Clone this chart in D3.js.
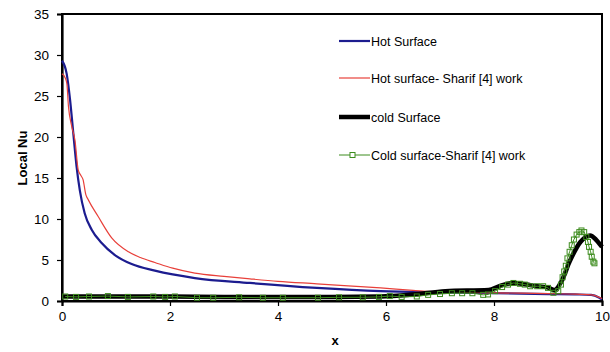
<!DOCTYPE html>
<html>
<head>
<meta charset="utf-8">
<script src="https://cdn.jsdelivr.net/npm/d3@7"></script>
<style>
    body { margin: 0; background: #fff; }
    svg { font-family: 'Liberation Sans', Arial, sans-serif; }
</style>
</head>
<body>
<div id="chart"></div>
<script>
'use strict';

// hot surface (present work)
const hotX = [0, 0.087, 0.15, 0.21, 0.27, 0.33, 0.42, 0.55, 0.73, 0.98, 1.29, 1.72, 2.46, 3.48, 4.72, 5.9, 7.0, 8.0, 9.0, 9.5, 9.8, 9.95, 10];
const hotNu = [29.3, 27.7, 24.5, 20.4, 16.4, 13.5, 10.7, 8.7, 7.1, 5.6, 4.5, 3.7, 2.8, 2.2, 1.6, 1.2, 1.05, 0.95, 0.85, 0.8, 0.75, 0.4, 0.2];

// hot surface - Sharif [4]
const hotSharifX = [0, 0.06, 0.09, 0.12, 0.18, 0.24, 0.3, 0.35, 0.39, 0.44, 0.49, 0.67, 0.92, 1.23, 1.45, 1.72, 2.05, 2.46, 3.0, 3.48, 4.0, 4.72, 5.3, 5.9, 6.5, 7.0, 8.0, 9.0, 9.5, 9.8, 10];
const hotSharifNu = [27.7, 27.2, 26.5, 23.7, 21.3, 19.6, 16.0, 15.3, 14.8, 13.0, 12.3, 10.3, 7.7, 6.0, 5.3, 4.7, 4.0, 3.4, 3.0, 2.7, 2.4, 2.1, 1.85, 1.6, 1.3, 1.1, 1.0, 0.9, 0.85, 0.75, 0.3];

// cold surface (present work)
const coldX = [0, 1, 2, 3, 4, 5, 5.9, 6.5, 7.1, 7.9, 8.1, 8.35, 8.6, 8.8, 9.0, 9.12, 9.25, 9.4, 9.6, 9.78, 9.9, 10];
const coldNu = [0.55, 0.55, 0.55, 0.5, 0.5, 0.5, 0.55, 0.8, 1.2, 1.35, 1.8, 2.2, 2.0, 1.8, 1.65, 1.35, 2.4, 4.8, 7.2, 8.0, 7.4, 6.6];

// cold surface - Sharif [4]
const coldSharifX = [0.06, 0.26, 0.5, 0.85, 1.22, 1.69, 1.91, 2.09, 2.5, 2.8, 3.28, 3.72, 4.09, 4.74, 5.13, 5.57, 5.87, 6.07, 6.29, 6.57, 6.78, 7.0, 7.22, 7.41, 7.6, 7.8, 7.89, 8.02, 8.15, 8.26, 8.36, 8.48, 8.57, 8.67, 8.8, 8.91, 9.0, 9.1, 9.19, 9.24, 9.27, 9.3, 9.33, 9.36, 9.4, 9.44, 9.48, 9.53, 9.58, 9.62, 9.67, 9.71, 9.74, 9.76, 9.79, 9.81, 9.84, 9.86];
const coldSharifNu = [0.55, 0.5, 0.55, 0.6, 0.5, 0.55, 0.5, 0.55, 0.4, 0.4, 0.45, 0.4, 0.4, 0.4, 0.45, 0.45, 0.5, 0.6, 0.5, 0.55, 0.75, 0.85, 0.95, 0.95, 0.95, 0.75, 0.8, 1.2, 1.7, 2.0, 2.2, 2.1, 2.0, 1.8, 1.8, 1.8, 1.6, 1.0, 1.2, 2.0, 2.9, 3.6, 4.3, 5.2, 6.0, 6.8, 7.5, 8.1, 8.4, 8.6, 8.4, 7.8, 7.2, 6.6, 6.0, 5.4, 4.8, 4.6];

const xTicks = [0, 2, 4, 6, 8, 10];
const yTicks = [0, 5, 10, 15, 20, 25, 30, 35];

const series = [
    { name: 'Hot Surface', xs: hotX, ys: hotNu, color: '#1c1c8f', width: 2.2, curve: d3.curveMonotoneX },
    { name: 'Hot surface- Sharif [4] work', xs: hotSharifX, ys: hotSharifNu, color: '#e8403a', width: 1.2, curve: d3.curveMonotoneX },
    { name: 'cold Surface', xs: coldX, ys: coldNu, color: '#000', width: 4.5, curve: d3.curveMonotoneX },
    { name: 'Cold surface-Sharif [4] work', xs: coldSharifX, ys: coldSharifNu, color: '#3d8c1e', width: 1, curve: d3.curveLinear, marker: true }
];

function getMargins() {
    return { top: 14, right: 8, bottom: 51, left: 62 };
}

function layout() {
    const margins = getMargins();
    const width = 610 - margins.left - margins.right;
    const height = 352 - margins.top - margins.bottom;

    const svg = d3.select('#chart')
        .append('svg')
        .attr('width', 610)
        .attr('height', 352);

    const chart = svg.append('g')
        .attr('transform', `translate(${margins.left},${margins.top})`);

    return { svg, chart, width, height, margins };
}

function addAxes(c) {
    const x = d3.scaleLinear().domain([0, 10]).range([0, c.width]);
    const y = d3.scaleLinear().domain([0, 35]).range([c.height, 0]);

    //frame (top and right)
    c.chart.append('rect')
        .attr('width', c.width)
        .attr('height', c.height)
        .attr('fill', 'none')
        .attr('stroke', '#000')
        .attr('stroke-width', 2);

    //x axis
    const xAxis = c.chart.append('g')
        .attr('transform', `translate(0,${c.height})`)
        .call(d3.axisBottom(x).tickValues(xTicks).tickSize(5).tickPadding(5));

    //y axis
    const yAxis = c.chart.append('g')
        .call(d3.axisLeft(y).tickValues(yTicks).tickSize(5).tickPadding(8));

    [xAxis, yAxis].forEach(a => {
        a.select('.domain').attr('stroke', '#000').attr('stroke-width', 2.2);
        a.selectAll('.tick line').attr('stroke', '#000').attr('stroke-width', 1.2);
        a.selectAll('.tick text')
            .attr('fill', '#000')
            .style('font-size', '13.5px')
            .style('font-family', "'Liberation Sans', Arial, sans-serif");
    });

    //labels
    c.svg.append('text')
        .attr('x', 335)
        .attr('y', 345)
        .attr('text-anchor', 'middle')
        .style('font-size', '13px')
        .style('font-weight', 'bold')
        .text('x');

    c.svg.append('text')
        .attr('transform', 'translate(27,158) rotate(-90)')
        .attr('text-anchor', 'middle')
        .style('font-size', '13px')
        .style('font-weight', 'bold')
        .text('Local Nu');

    return { x, y };
}

function drawSeries(c, s) {
    series.forEach(d => {
        const pts = d.xs.map((v, i) => [v, d.ys[i]]);
        const line = d3.line()
            .x(p => s.x(p[0]))
            .y(p => s.y(p[1]))
            .curve(d.curve);

        c.chart.append('path')
            .datum(pts)
            .attr('d', line)
            .attr('fill', 'none')
            .attr('stroke', d.color)
            .attr('stroke-width', d.width)
            .attr('stroke-linejoin', 'round');

        if (d.marker) {
            c.chart.append('g')
                .selectAll('rect')
                .data(pts)
                .join('rect')
                .attr('x', p => s.x(p[0]) - 2.5)
                .attr('y', p => s.y(p[1]) - 2.5)
                .attr('width', 5)
                .attr('height', 5)
                .attr('fill', 'none')
                .attr('stroke', d.color)
                .attr('stroke-width', 1);
        }
    });
}

function addLegend(c) {
    const rowY = [41, 78, 117, 155];
    const g = c.svg.append('g');

    series.forEach((d, i) => {
        const row = g.append('g').attr('transform', `translate(339,${rowY[i]})`);
        row.append('line')
            .attr('x1', 0)
            .attr('x2', 31)
            .attr('stroke', d.color)
            .attr('stroke-width', d.width);
        if (d.marker) {
            row.append('rect')
                .attr('x', 11)
                .attr('y', -2.5)
                .attr('width', 5)
                .attr('height', 5)
                .attr('fill', '#fff')
                .attr('stroke', d.color);
        }
        row.append('text')
            .attr('x', 32)
            .attr('y', 4.5)
            .style('font-size', '12.5px')
            .text(d.name);
    });
}

const c = layout();
const scales = addAxes(c);
drawSeries(c, scales);
addLegend(c);
</script>
</body>
</html>
